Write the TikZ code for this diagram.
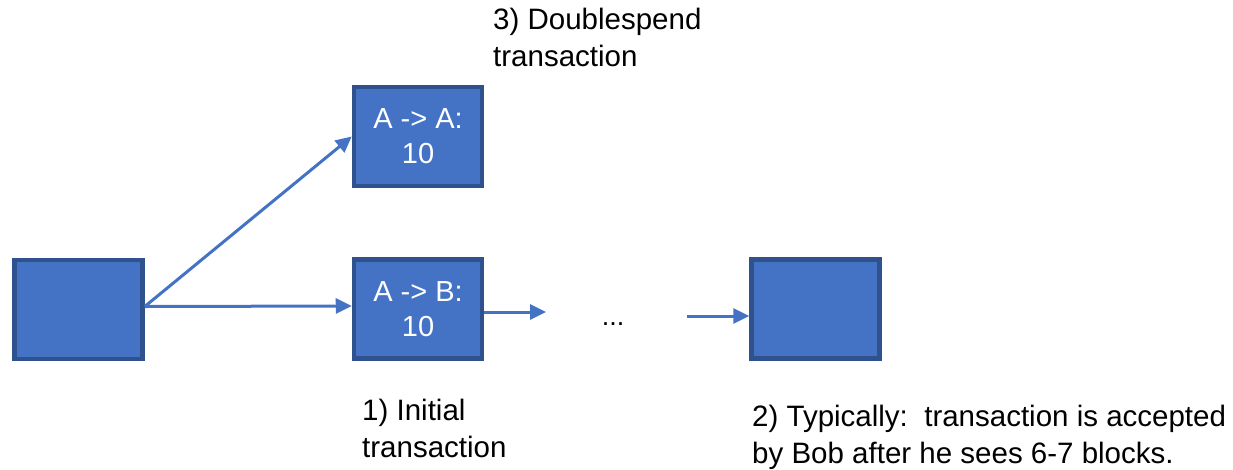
\documentclass[tikz,border=0pt]{standalone}
\usepackage{fontspec}
\setmainfont{Liberation Sans}
\usetikzlibrary{arrows.meta}
\definecolor{boxfill}{HTML}{4472C4}
\definecolor{boxline}{HTML}{2F528F}
\begin{document}
\begin{tikzpicture}[x=1pt,y=-1pt,
  block/.style={draw=boxline,fill=boxfill,line width=4.5pt,minimum width=128pt,minimum height=99pt,inner sep=0pt,align=center,text=white,font=\fontsize{29}{35}\selectfont},
  conn/.style={draw=boxfill,line width=3pt,-{Triangle[length=16pt,width=15pt]}},
  lbl/.style={anchor=north west,align=left,inner sep=0pt,font=\fontsize{29.5}{37}\selectfont}]
\useasboundingbox (0,0) rectangle (1233,469);
\node[block] (L) at (78.5,309.5) {};
\node[block] (AB) at (418,309) {A -> B:\\10};
\node[block] (AA) at (418,136.5) {A -> A:\\10};
\node[block] (R) at (815.5,309) {};
\coordinate (e1) at (546,312);
\coordinate (s2) at (687,316);
\node[inner sep=0pt,font=\fontsize{27}{32}\selectfont] (dots) at (613,324) {...};
\draw[conn] ([yshift=3pt]L.east) -- ([yshift=3pt]AB.west);
\draw[conn] ([yshift=3pt]L.east) -- (AA.west);
\draw[conn] ([yshift=-3pt]AB.east) -- (e1);
\draw[conn] (s2) -- ([yshift=-7pt]R.west);
\node[lbl] (t3) at (493,8) {3) Doublespend\\transaction};
\node[lbl] (t1) at (362,399) {1) Initial\\transaction};
\node[lbl] (t2) at (752,405) {2) Typically:\ \ transaction is accepted\\by Bob after he sees 6-7 blocks.};
\end{tikzpicture}
\end{document}
